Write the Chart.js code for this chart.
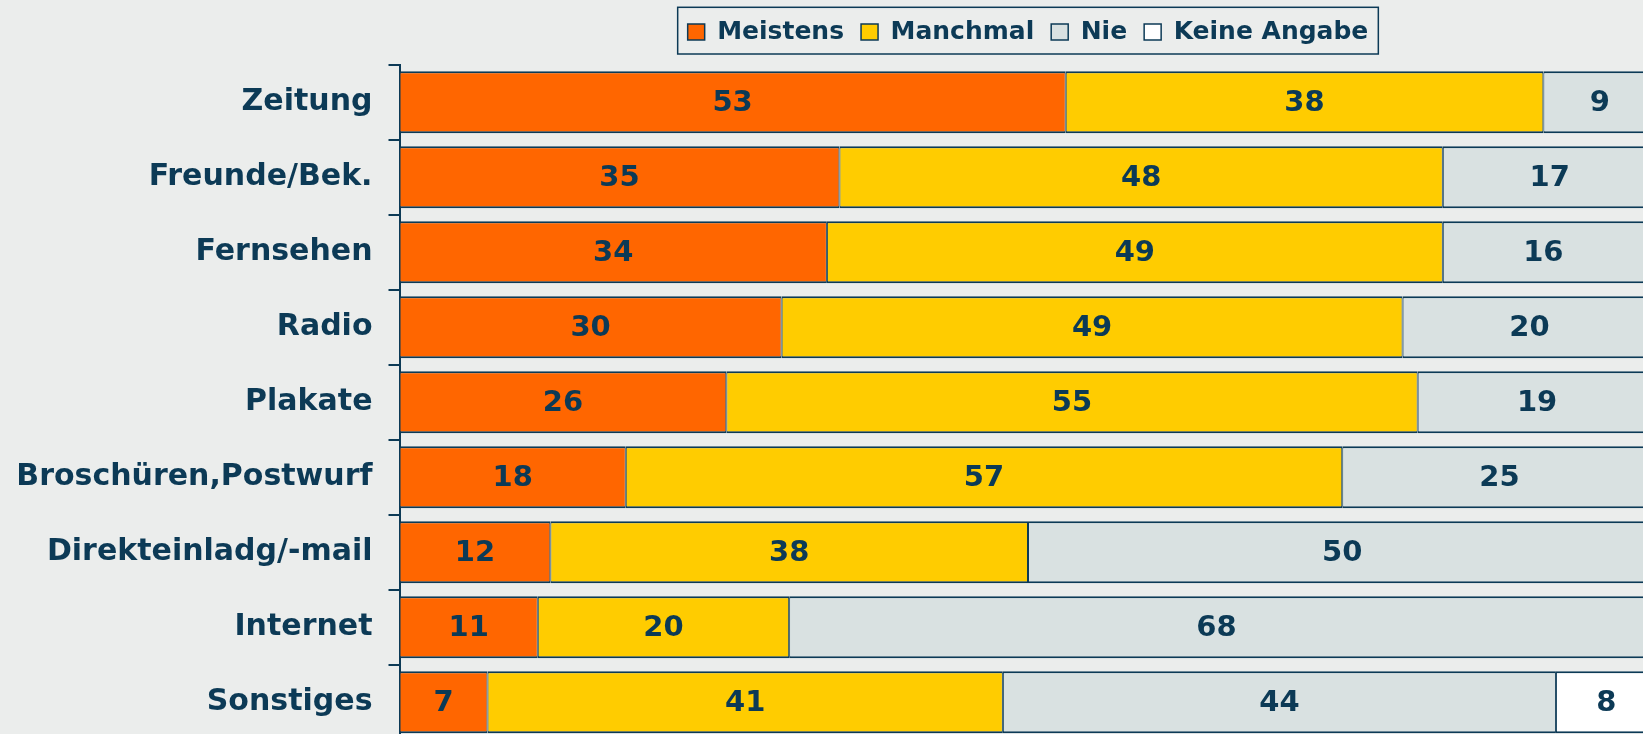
<!DOCTYPE html>
<html><head><meta charset="utf-8">
<script src="https://cdn.jsdelivr.net/npm/chart.js@4.4.1/dist/chart.umd.min.js"></script>
<style>
html,body{margin:0;padding:0;background:#EBEDEC;overflow:hidden;width:1643px;height:734px;}
#wrap{position:absolute;left:0;top:0;width:1680px;height:760px;}
canvas{display:block;}
</style></head><body>
<div id="wrap"><canvas id="c" width="1680" height="760"></canvas></div>
<script>
const categories = ['Zeitung','Freunde/Bek.','Fernsehen','Radio','Plakate','Broschüren,Postwurf','Direkteinladg/-mail','Internet','Sonstiges'];
const seriesNames = ['Meistens','Manchmal','Nie','Keine Angabe'];
const meistens = [53,35,34,30.4,26,18,12,11,7];
const manchmal = [38,48,49,49.4,55,57,38,20,41];
const nie      = [9,17,16,20.2,19,25,50,68,44];
const keineAngabe = [0,0,1,0,0,0,0,1,8];
const xMin = 0, xMax = 100;

const NAVY = '#0c3a56';
const COLORS = ['#FF6600','#FFCC00','#D9E1E1','#FFFFFF'];
const seriesData = [meistens, manchmal, nie, keineAngabe];

const legendFrame = {
  id: 'legendFrame',
  afterDraw(chart) {
    const lg = chart.legend, hb = lg.legendHitBoxes, ctx = chart.ctx;
    if (!hb || !hb.length) return;
    const l = Math.min(...hb.map(h => h.left)) - 10;
    const r = Math.max(...hb.map(h => h.left + h.width)) + 10;
    const t = hb[0].top - 12.2;
    const b = hb[0].top + hb[0].height + 9.5;
    ctx.save();
    ctx.strokeStyle = NAVY; ctx.lineWidth = 1.5;
    ctx.strokeRect(l, t, r - l, b - t);
    ctx.restore();
  }
};

const barLabels = {
  id: 'barLabels',
  afterDatasetsDraw(chart) {
    const ctx = chart.ctx;
    ctx.save();
    ctx.font = 'bold 29px "DejaVu Sans"';
    ctx.fillStyle = NAVY;
    ctx.textAlign = 'center';
    ctx.textBaseline = 'middle';
    chart.data.datasets.forEach((ds, i) => {
      const meta = chart.getDatasetMeta(i);
      meta.data.forEach((bar, j) => {
        const v = ds.data[j];
        if (!v) return;
        const p = bar.getProps(['x', 'y', 'base'], true);
        ctx.fillText(String(Math.round(v)), (p.x + p.base) / 2, p.y + 1);
      });
    });
    ctx.restore();
  }
};

new Chart(document.getElementById('c'), {
  type: 'bar',
  data: {
    labels: categories,
    datasets: seriesNames.map((n, i) => ({
      label: n,
      data: seriesData[i],
      backgroundColor: COLORS[i],
      borderColor: NAVY,
      borderWidth: {top: 2, bottom: 2, left: 1, right: 1},
      borderSkipped: false,
      categoryPercentage: 1,
      barPercentage: 0.827
    }))
  },
  options: {
    indexAxis: 'y',
    responsive: false,
    animation: false,
    layout: { padding: { left: 0, right: 23.5, top: 2.5, bottom: 20.3 } },
    scales: {
      x: { stacked: true, display: false, min: xMin, max: xMax },
      y: {
        stacked: true,
        afterFit(scale) { scale.width = 399.5; scale.paddingTop = 0; scale.paddingBottom = 0; },
        border: { color: NAVY, width: 2 },
        grid: { drawOnChartArea: false, drawTicks: true, tickLength: 11, color: NAVY, lineWidth: 2, offset: true },
        ticks: { color: NAVY, padding: 16, font: { family: 'DejaVu Sans', weight: 'bold', size: 30 } }
      }
    },
    plugins: {
      tooltip: { enabled: false },
      subtitle: { display: true, text: '', position: 'top', weight: 500, font: { size: 1, lineHeight: 1 }, padding: { top: 9.2, bottom: 0 } },
      legend: {
        position: 'top',
        fullSize: false,
        labels: {
          color: NAVY,
          boxWidth: 17, boxHeight: 16,
          padding: 17,
          font: { family: 'DejaVu Sans', weight: 'bold', size: 25 }
        }
      }
    }
  },
  plugins: [legendFrame, barLabels]
});
</script>
</body></html>
